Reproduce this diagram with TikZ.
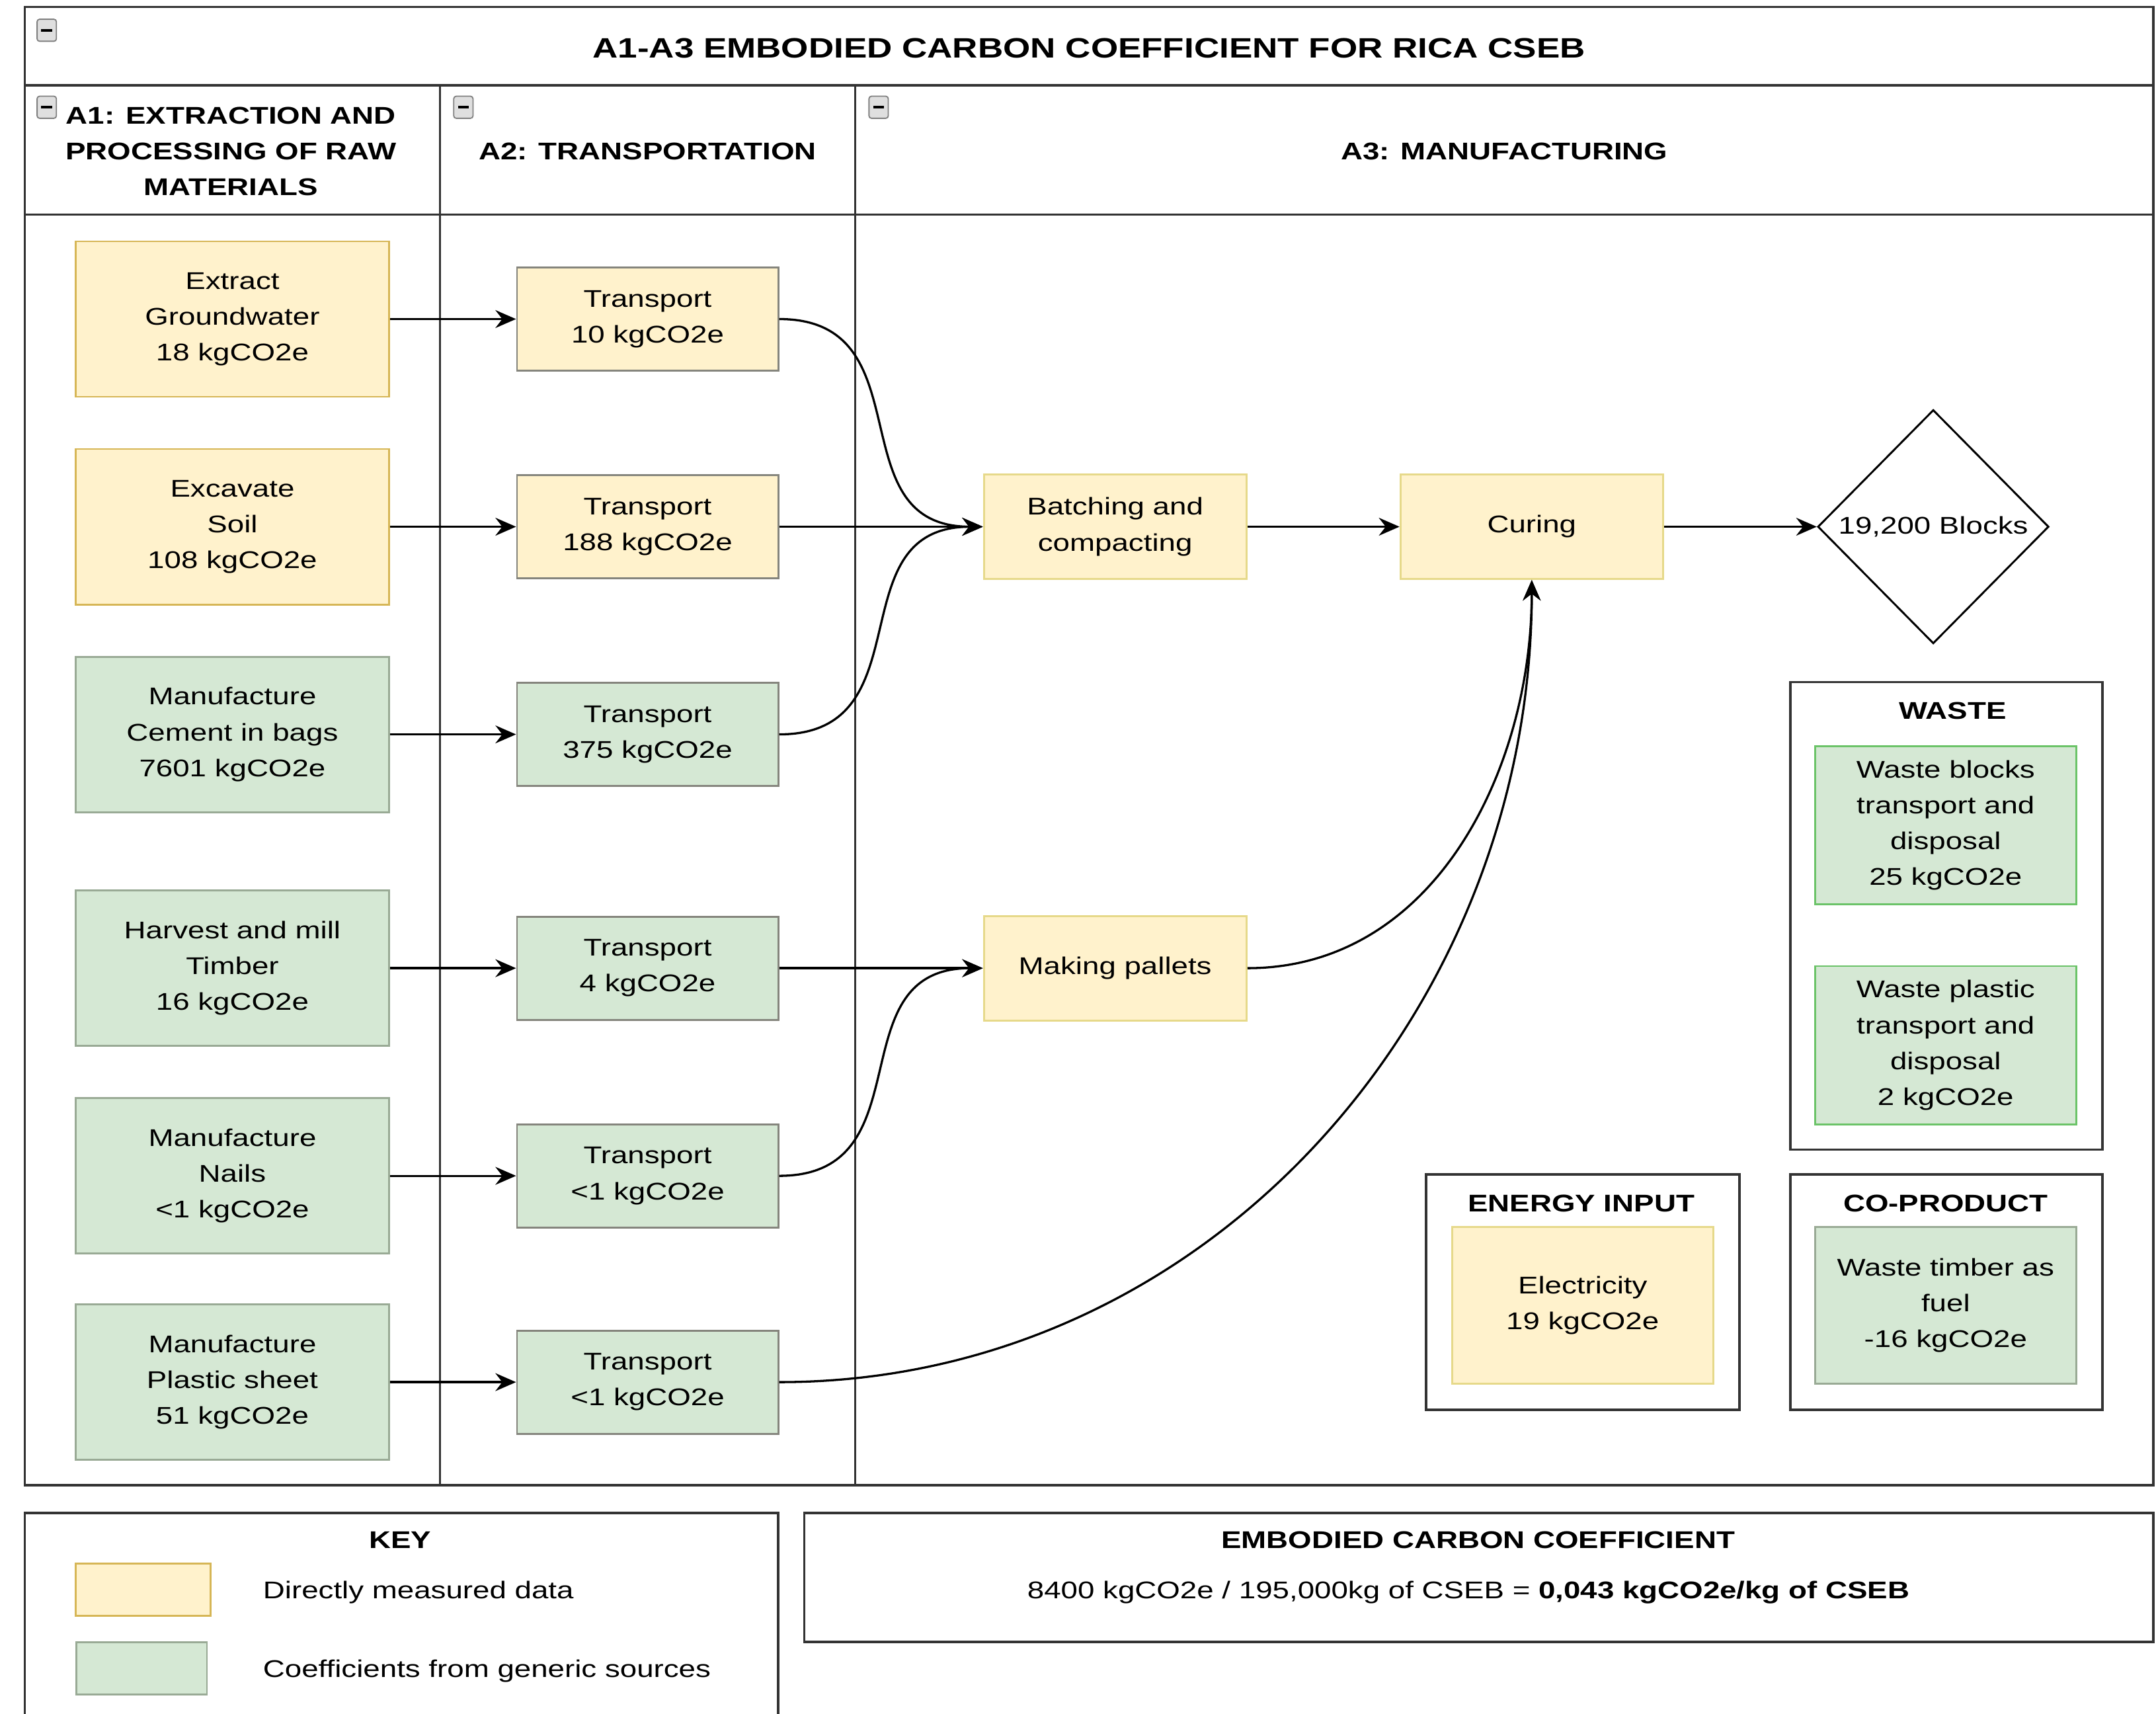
\documentclass[tikz,border=0pt]{standalone}
\usepackage{fontspec}
\setmainfont{Liberation Sans}[FakeStretch=1.25]
\usetikzlibrary{shapes.geometric,arrows.meta}
\definecolor{ylwfill}{HTML}{FFF2CC}
\definecolor{ylwdraw}{HTML}{D6B656}
\definecolor{ylwpale}{HTML}{E6D98A}
\definecolor{grnfill}{HTML}{D5E8D4}
\definecolor{grndraw}{HTML}{99AA95}
\definecolor{tradraw}{HTML}{85857D}
\definecolor{framegray}{HTML}{333333}
\tikzset{
  lane/.style={draw=framegray, line width=1pt},
  box/.style={draw, line width=0.8pt, align=center, inner sep=1pt, font=\fontsize{10}{14.8}\selectfont},
  meas/.style={box, fill=ylwfill, draw=ylwdraw},
  gen/.style={box, fill=grnfill, draw=grndraw},
  srcbox/.style={minimum width=45.6mm, minimum height=22.6mm},
  trabox/.style={minimum width=38mm, minimum height=15mm, draw=tradraw},
  stepbox/.style={minimum width=38.2mm, minimum height=15.2mm, draw=ylwpale},
  sidebox/.style={minimum width=38mm, minimum height=23mm},
  head/.style={font=\bfseries\fontsize{10}{14.8}\selectfont, align=center, inner sep=0pt},
  plain/.style={font=\fontsize{10}{13}\selectfont, inner sep=0pt},
  icon/.style={draw=gray, fill=gray!25, rounded corners=1pt, line width=0.5pt},
  flow/.style={line width=0.9pt, -{Stealth[length=3mm,width=2.6mm,inset=1mm]}},
}
\begin{document}
\begin{tikzpicture}[x=0.2mm,y=-0.2mm]
\clip (0,0) rectangle (1568,1246);
\fill[white] (0,0) rectangle (1568,1246);
% lanes
\draw[lane] (18,5) rectangle (1566,1080);
\draw[lane] (18,62) -- (1566,62) (18,156) -- (1566,156);
\draw[lane] (320,62) -- (320,1080) (622,62) -- (622,1080);
\foreach \x/\y in {34/22,34/78,337/78,639/78}{
  \draw[icon] (\x-7,\y-8) rectangle (\x+7,\y+8);
  \draw[line width=1pt] (\x-4,\y) -- (\x+4,\y);
}
\node[head, font=\bfseries\fontsize{11.6}{14}\selectfont] (ttl) at (792,35) {A1-A3 EMBODIED CARBON COEFFICIENT FOR RICA CSEB};
\node[head] (hdone) at (168,110) {A1: EXTRACTION AND\\PROCESSING OF RAW\\MATERIALS};
\node[head] (hdtwo) at (471,110) {A2: TRANSPORTATION};
\node[head] (hdthree) at (1094,110) {A3: MANUFACTURING};

% A1
\node[meas, srcbox] (ext) at (169,232) {Extract\\Groundwater\\18 kgCO2e};
\node[meas, srcbox] (exc) at (169,383) {Excavate\\Soil\\108 kgCO2e};
\node[gen, srcbox] (cem) at (169,534) {Manufacture\\Cement in bags\\7601 kgCO2e};
\node[gen, srcbox] (tim) at (169,704) {Harvest and mill\\Timber\\16 kgCO2e};
\node[gen, srcbox] (nail) at (169,855) {Manufacture\\Nails\\<1 kgCO2e};
\node[gen, srcbox] (plas) at (169,1005) {Manufacture\\Plastic sheet\\51 kgCO2e};

% A2
\node[meas, trabox] (tra1) at (471,232) {Transport\\10 kgCO2e};
\node[meas, trabox] (tra2) at (471,383) {Transport\\188 kgCO2e};
\node[gen, trabox] (tra3) at (471,534) {Transport\\375 kgCO2e};
\node[gen, trabox] (tra4) at (471,704) {Transport\\4 kgCO2e};
\node[gen, trabox] (tra5) at (471,855) {Transport\\<1 kgCO2e};
\node[gen, trabox] (tra6) at (471,1005) {Transport\\<1 kgCO2e};

% A3
\node[meas, stepbox] (batch) at (811,383) {Batching and\\compacting};
\node[meas, stepbox] (cure) at (1114,383) {Curing};
\node[meas, stepbox] (pallet) at (811,704) {Making pallets};
\node[diamond, draw, line width=0.8pt, minimum width=33.6mm, minimum height=34mm, inner sep=0pt,
  label={[plain]center:19,200 Blocks}] (blocks) at (1406,383) {};

\draw[lane] (1302,496) rectangle (1529,836);
\node[head] (wst) at (1420,517) {WASTE};
\node[gen, sidebox, draw=grndraw!70!green] (wblk) at (1415,600) {Waste blocks\\transport and\\disposal\\25 kgCO2e};
\node[gen, sidebox, draw=grndraw!70!green] (wpla) at (1415,760) {Waste plastic\\transport and\\disposal\\2 kgCO2e};

\draw[lane] (1037,854) rectangle (1265,1025);
\node[head] (nrg) at (1150,875) {ENERGY INPUT};
\node[meas, sidebox, minimum height=22.8mm, draw=ylwpale] (elec) at (1151,949) {Electricity\\19 kgCO2e};

\draw[lane] (1302,854) rectangle (1529,1025);
\node[head] (cop) at (1415,875) {CO-PRODUCT};
\node[gen, sidebox, minimum height=22.8mm] (wtim) at (1415,949) {Waste timber as\\fuel\\-16 kgCO2e};

% flows
\draw[flow] (ext) -- (tra1);
\draw[flow] (exc) -- (tra2);
\draw[flow] (cem) -- (tra3);
\draw[flow] (tim) -- (tra4);
\draw[flow] (nail) -- (tra5);
\draw[flow] (plas) -- (tra6);
\draw[flow] (tra1.east) to[out=0, in=180, looseness=1.3] (batch.west);
\draw[flow] (tra2) -- (batch);
\draw[flow] (tra3.east) to[out=0, in=180, looseness=1.3] (batch.west);
\draw[flow] (tra4) -- (pallet);
\draw[flow] (tra5.east) to[out=0, in=180, looseness=1.3] (pallet.west);
\draw[flow] (tra6.east) to[out=0, in=-90] (cure.south);
\draw[flow] (pallet.east) to[out=0, in=-90] (cure.south);
\draw[flow] (batch) -- (cure);
\draw[flow] (cure) -- (blocks);

% key
\draw[lane] (18,1100) rectangle (566,1290);
\node[head] (key) at (291,1120) {KEY};
\node[draw=ylwdraw, fill=ylwfill, line width=0.8pt, minimum width=19.6mm, minimum height=7.6mm] (kyl) at (104,1156) {};
\node[draw=grndraw, fill=grnfill, line width=0.8pt, minimum width=19mm, minimum height=7.6mm] (kgr) at (103,1213) {};
\node[plain, anchor=west] (kylt) at (191,1158) {Directly measured data};
\node[plain, anchor=west] (kgrt) at (191,1215) {Coefficients from generic sources};

% coefficient
\draw[lane] (585,1100) rectangle (1566,1194);
\node[head] (ecc) at (1075,1120) {EMBODIED CARBON COEFFICIENT};
\node[plain] (ecf) at (1068,1158) {8400 kgCO2e / 195,000kg of CSEB = \textbf{0,043 kgCO2e/kg of CSEB}};
\end{tikzpicture}
\end{document}
